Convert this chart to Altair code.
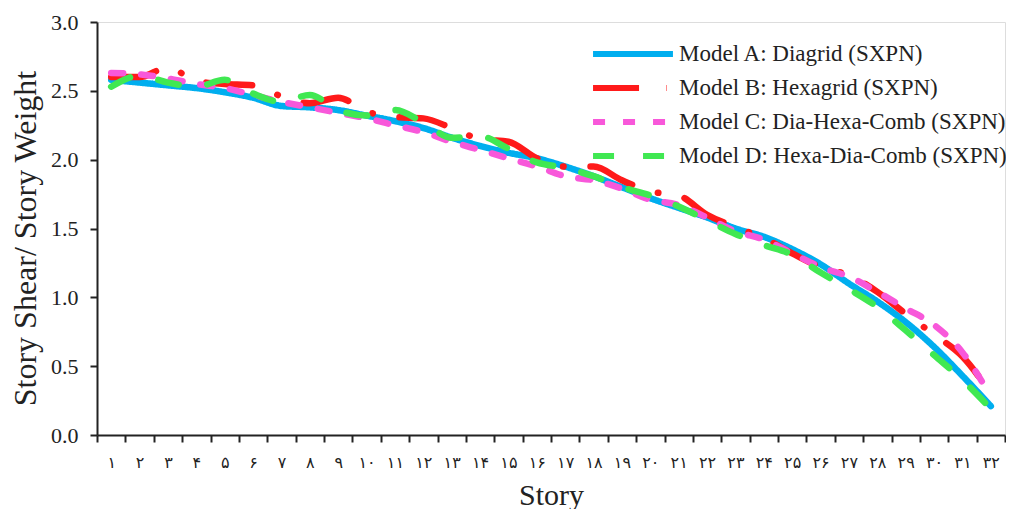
import altair as alt
import pandas as pd

stories = list(range(1, 33))
persian = str.maketrans("0123456789", "۰۱۲۳۴۵۶۷۸۹")
story_labels = [str(s).translate(persian) for s in stories]

model_a = [2.58, 2.56, 2.54, 2.52, 2.49, 2.45, 2.39, 2.38, 2.36, 2.32, 2.28, 2.23, 2.16, 2.10, 2.05, 2.01,
           1.95, 1.88, 1.80, 1.72, 1.65, 1.58, 1.50, 1.44, 1.35, 1.24, 1.10, 0.97, 0.82, 0.64, 0.43, 0.21]
model_b = [2.60, 2.60, 2.67, 2.57, 2.55, 2.54, 2.46, 2.41, 2.45, 2.35, 2.31, 2.30, 2.23, 2.15, 2.13, 2.01,
           1.95, 1.95, 1.85, 1.77, 1.74, 1.60, 1.51, 1.43, 1.32, 1.22, 1.16, 1.04, 0.88, 0.73, 0.57, 0.30]
model_c = [2.63, 2.62, 2.59, 2.55, 2.52, 2.47, 2.42, 2.38, 2.34, 2.30, 2.25, 2.20, 2.13, 2.07, 2.01, 1.95,
           1.88, 1.85, 1.79, 1.71, 1.67, 1.58, 1.48, 1.42, 1.32, 1.22, 1.15, 1.04, 0.92, 0.80, 0.60, 0.28]
model_d = [2.53, 2.61, 2.56, 2.53, 2.58, 2.48, 2.42, 2.47, 2.36, 2.32, 2.36, 2.27, 2.16, 2.17, 2.08, 1.98,
           1.94, 1.88, 1.80, 1.74, 1.66, 1.56, 1.46, 1.38, 1.31, 1.18, 1.06, 0.93, 0.76, 0.58, 0.40, 0.19]

series_names = ["Model A: Diagrid (SXPN)", "Model B: Hexagrid (SXPN)",
                "Model C: Dia-Hexa-Comb (SXPN)", "Model D: Hexa-Dia-Comb (SXPN)"]
series_values = [model_a, model_b, model_c, model_d]
colors = ["#00AEEF", "#FF1A1A", "#F858DA", "#40E852"]
dashes = [[1, 0], [46, 27, 0.5, 27], [12, 18], [21, 29]]

rows = []
for k, (name, vals) in enumerate(zip(series_names, series_values)):
    for lab, v in zip(story_labels, vals):
        rows.append({"story": lab, "value": v, "model": name, "order": k})
df = pd.DataFrame(rows)

legend_kw = dict(title=None, orient="none", legendX=515, legendY=11,
                 labelFont="Liberation Serif", labelFontSize=23, labelLimit=0,
                 labelColor="#222", symbolType="M-2.22,0H2.22", symbolSize=1296,
                 symbolStrokeWidth=6, rowPadding=1, labelOffset=25)

chart = alt.Chart(df).mark_line(strokeWidth=6.5, strokeCap="round", strokeJoin="round",
                                interpolate="monotone").encode(
    x=alt.X("story:N", sort=story_labels, scale=alt.Scale(paddingInner=0, paddingOuter=0),
            axis=alt.Axis(title="Story", labelAngle=0, tickBand="extent", labelFont="DejaVu Sans",
                          labelFontSize=16, labelPadding=12, labelColor="#222",
                          titleFontSize=30, titlePadding=10, titleFont="Liberation Serif",
                          titleFontWeight="normal", titleColor="#222",
                          domainColor="#222", domainWidth=2, tickColor="#222", tickWidth=2,
                          tickSize=7, grid=False)),
    y=alt.Y("value:Q", scale=alt.Scale(domain=[0, 3]),
            axis=alt.Axis(title="Story Shear/ Story Weight", values=[0, 0.5, 1, 1.5, 2, 2.5, 3],
                          format=".1f", labelFont="Liberation Serif", labelFontSize=22,
                          labelColor="#222", labelPadding=12,
                          titleFont="Liberation Serif", titleFontSize=32, titleFontWeight="normal",
                          titleColor="#222", titlePadding=8, titleY=216,
                          domainColor="#222", domainWidth=2, tickColor="#222", tickWidth=2,
                          tickSize=7, grid=False)),
    color=alt.Color("model:N", sort=series_names,
                    scale=alt.Scale(domain=series_names, range=colors),
                    legend=alt.Legend(**legend_kw)),
    strokeDash=alt.StrokeDash("model:N", sort=series_names,
                              scale=alt.Scale(domain=series_names, range=dashes),
                              legend=alt.Legend(**legend_kw)),
    order="order:Q",
    detail="model:N",
).properties(
    width=908, height=413,
    autosize=alt.AutoSizeParams(type="none"),
    padding={"left": 89, "top": 14, "right": 1, "bottom": 74},
).configure_view(stroke=None).configure(background="white", font="Liberation Serif")

chart.save("out.html", embed_options={"renderer": "svg", "actions": False})
